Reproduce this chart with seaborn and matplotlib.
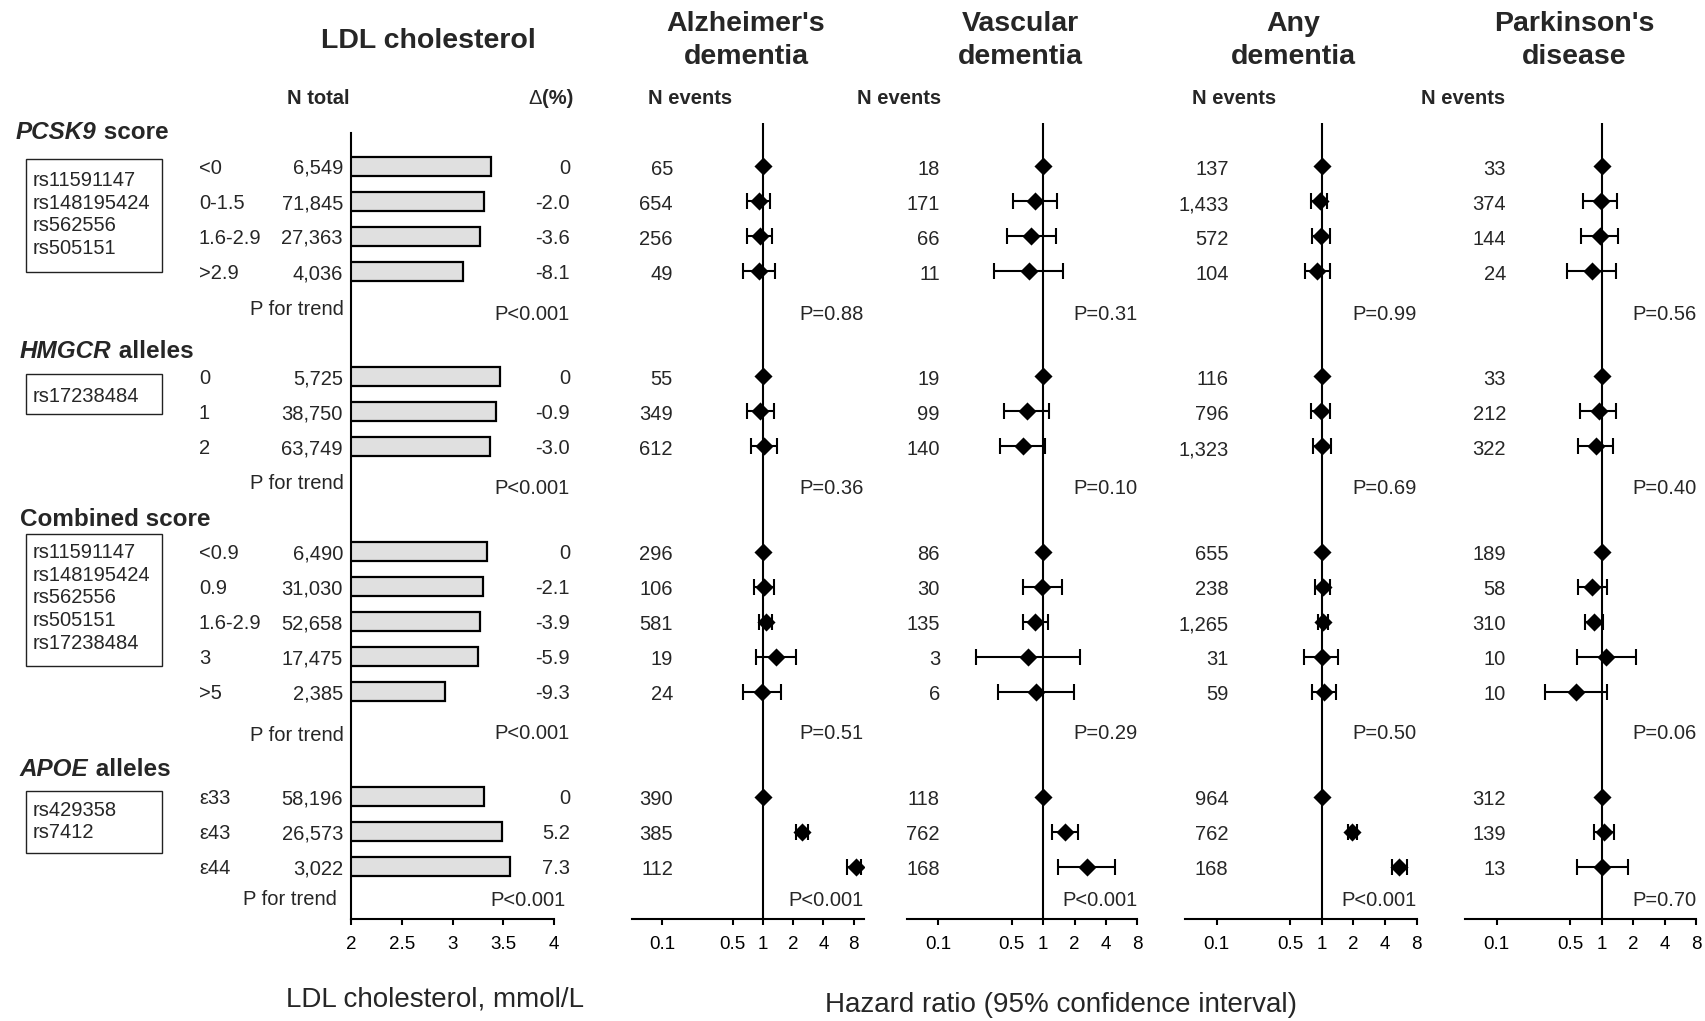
import numpy as np
import pandas as pd
import matplotlib
matplotlib.use('Agg')
import matplotlib.pyplot as plt
import matplotlib.transforms as mtransforms
import matplotlib.patches as patches
from matplotlib.ticker import FixedLocator, NullLocator
import seaborn as sns

sns.set_theme(style='ticks')
plt.rcParams['font.family'] = ['Liberation Sans', 'DejaVu Sans']

##############################################################################
# Data
##############################################################################

header_parts = [('PCSK9', ' score'), ('HMGCR', ' alleles'), ('', 'Combined score'), ('APOE', ' alleles')]

snps = [['rs11591147', 'rs148195424', 'rs562556', 'rs505151'],
        ['rs17238484'],
        ['rs11591147', 'rs148195424', 'rs562556', 'rs505151', 'rs17238484'],
        ['rs429358', 'rs7412']]

categories = [['<0', '0-1.5', '1.6-2.9', '>2.9'],
              ['0', '1', '2'],
              ['<0.9', '0.9', '1.6-2.9', '3', '>5'],
              ['\u03b533', '\u03b543', '\u03b544']]

n_total = [[6549, 71845, 27363, 4036],
           [5725, 38750, 63749],
           [6490, 31030, 52658, 17475, 2385],
           [58196, 26573, 3022]]

ldl_mean = [[3.38, 3.31, 3.27, 3.10],
            [3.47, 3.43, 3.37],
            [3.34, 3.30, 3.27, 3.25, 2.93],
            [3.31, 3.49, 3.57]]

delta_pct = [['0', '-2.0', '-3.6', '-8.1'],
             ['0', '-0.9', '-3.0'],
             ['0', '-2.1', '-3.9', '-5.9', '-9.3'],
             ['0', '5.2', '7.3']]

ldl_p = ['P<0.001', 'P<0.001', 'P<0.001', 'P<0.001']

# Alzheimer's dementia
alz_n = [[65, 654, 256, 49], [55, 349, 612], [296, 106, 581, 19, 24], [390, 385, 112]]
alz_hr = [[1.0, 0.91, 0.93, 0.91], [1.0, 0.94, 1.02], [1.0, 1.02, 1.07, 1.34, 0.98], [1.0, 2.44, 8.46]]
alz_lo = [[None, 0.70, 0.70, 0.63], [None, 0.70, 0.76], [None, 0.81, 0.92, 0.85, 0.64], [None, 2.11, 6.90]]
alz_hi = [[None, 1.19, 1.22, 1.33], [None, 1.29, 1.37], [None, 1.28, 1.23, 2.14, 1.52], [None, 2.80, 9.40]]
alz_p = ['P=0.88', 'P=0.36', 'P=0.51', 'P<0.001']

# Vascular dementia
vas_n = [[18, 171, 66, 11], [19, 99, 140], [86, 30, 135, 3, 6], [118, 762, 168]]
vas_hr = [[1.0, 0.84, 0.77, 0.73], [1.0, 0.70, 0.64], [1.0, 0.98, 0.84, 0.72, 0.85], [1.0, 1.63, 2.63]]
vas_lo = [[None, 0.52, 0.45, 0.34], [None, 0.42, 0.39], [None, 0.65, 0.65, 0.23, 0.37], [None, 1.22, 1.40]]
vas_hi = [[None, 1.36, 1.32, 1.55], [None, 1.15, 1.05], [None, 1.52, 1.11, 2.28, 1.96], [None, 2.16, 4.92]]
vas_p = ['P=0.31', 'P=0.10', 'P=0.29', 'P<0.001']

# Any dementia
any_n = [[137, 1433, 572, 104], [116, 796, 1323], [655, 238, 1265, 31, 59], [964, 762, 168]]
any_hr = [[1.0, 0.96, 0.99, 0.91], [1.0, 0.98, 1.00], [1.0, 1.02, 1.03, 1.00, 1.06], [1.0, 1.96, 5.45]]
any_lo = [[None, 0.79, 0.81, 0.70], [None, 0.79, 0.82], [None, 0.87, 0.92, 0.68, 0.80], [None, 1.79, 4.62]]
any_hi = [[None, 1.13, 1.20, 1.21], [None, 1.21, 1.23], [None, 1.19, 1.15, 1.42, 1.38], [None, 2.16, 6.48]]
any_p = ['P=0.99', 'P=0.69', 'P=0.50', 'P<0.001']

# Parkinson's disease
par_n = [[33, 374, 144, 24], [33, 212, 322], [189, 58, 310, 10, 10], [312, 139, 13]]
par_hr = [[1.0, 0.98, 0.96, 0.82], [1.0, 0.94, 0.89], [1.0, 0.82, 0.85, 1.11, 0.57], [1.0, 1.06, 1.02]]
par_lo = [[None, 0.66, 0.64, 0.47], [None, 0.63, 0.60], [None, 0.60, 0.70, 0.58, 0.29], [None, 0.85, 0.59]]
par_hi = [[None, 1.39, 1.45, 1.38], [None, 1.38, 1.30], [None, 1.13, 1.04, 2.11, 1.13], [None, 1.32, 1.80]]
par_p = ['P=0.56', 'P=0.40', 'P=0.06', 'P=0.70']

outcome_titles = [("Alzheimer's", 'dementia'), ('Vascular', 'dementia'), ('Any', 'dementia'), ("Parkinson's", 'disease')]
outcomes = [(alz_n, alz_hr, alz_lo, alz_hi, alz_p),
            (vas_n, vas_hr, vas_lo, vas_hi, vas_p),
            (any_n, any_hr, any_lo, any_hi, any_p),
            (par_n, par_hr, par_lo, par_hi, par_p)]

hr_ticks = [0.1, 0.5, 1, 2, 4, 8]
ldl_ticks = [2, 2.5, 3, 3.5, 4]

##############################################################################
# Layout
##############################################################################

W, H = 1706, 1021
TOP_ROW, BOT_ROW = -0.97, 21.5
FS = 14.5
TICK_FS = 13.5


def row_px(r):
    return 166.5 + 35.0 * r


# row positions: header, rows, P for trend
header_rows, item_rows = [], []
r = -1
for cats in categories:
    header_rows.append(r)
    item_rows.append(list(range(r + 1, r + 1 + len(cats))))
    r += len(cats) + 2
header_dy = [-0.03, 0.22, 0.0, 0.15]
trend_label_rows = [4.04, 9.01, 16.2, 20.88]
trend_p_rows = [4.17, 9.14, 16.13, 20.9]
box_spans = [(-0.22, 3.02), (5.92, 7.08), (10.5, 14.27), (17.83, 19.6)]
box_text_dy = [-0.09, 0.02, -0.115, -0.055]

fig = plt.figure(figsize=(W / 100, H / 100), dpi=100)
fig.patch.set_facecolor('white')


def add_ax(left, right):
    top, bot = row_px(TOP_ROW), row_px(BOT_ROW)
    return fig.add_axes([left / W, 1 - bot / H, (right - left) / W, (bot - top) / H])


##############################################################################
# LDL cholesterol bars
##############################################################################

ax_ldl = add_ax(351, 554)
bar_df = pd.DataFrame({'pos': np.concatenate(item_rows).astype(float),
                       'ldl': np.concatenate(ldl_mean)})
sns.barplot(data=bar_df, x='ldl', y='pos', orient='h', native_scale=True, width=0.56,
            color='#e0e0e0', saturation=1, edgecolor='black', linewidth=1.6,
            errorbar=None, ax=ax_ldl)
ax_ldl.set_xlim(2, 4)
ax_ldl.set_ylim(BOT_ROW, TOP_ROW)
ax_ldl.set_xticks(ldl_ticks)
ax_ldl.set_xticklabels([f'{v:g}' for v in ldl_ticks])
ax_ldl.set_yticks([])
ax_ldl.set_xlabel('')
ax_ldl.set_ylabel('')
for s in ['top', 'right']:
    ax_ldl.spines[s].set_visible(False)
for s in ['left', 'bottom']:
    ax_ldl.spines[s].set_color('black')
    ax_ldl.spines[s].set_linewidth(1.5)
ax_ldl.tick_params(axis='x', direction='out', length=4, width=1.5, pad=8, labelsize=TICK_FS, colors='black')

blend = mtransforms.blended_transform_factory(fig.transFigure, ax_ldl.transData)


def txt(xpx, row, s, **kw):
    kw.setdefault('fontsize', FS)
    kw.setdefault('va', 'center_baseline')
    return ax_ldl.text(xpx / W, row, s, transform=blend, clip_on=False, **kw)


for g in range(len(categories)):
    # group header
    hy = header_rows[g] + header_dy[g]
    ital, rest = header_parts[g]
    hx = 16 if g == 0 else 20
    if ital:
        tt = txt(hx, hy, ital, ha='left', fontsize=17.5, fontweight='bold', fontstyle='italic')
        ax_ldl.annotate(rest, xy=(1, 0), xycoords=tt, va='bottom', ha='left',
                        fontsize=17.5, fontweight='bold')
    else:
        txt(hx, hy, rest, ha='left', fontsize=17.5, fontweight='bold')
    # SNP box
    b0, b1 = box_spans[g]
    ax_ldl.add_patch(patches.Rectangle((26 / W, b0), (162 - 26) / W, b1 - b0, transform=blend,
                                       fill=False, edgecolor='#222222', lw=1.0, clip_on=False))
    centre = (b0 + b1) / 2 + box_text_dy[g]
    n = len(snps[g])
    for i, snp in enumerate(snps[g]):
        txt(33, centre + (i - (n - 1) / 2) * 0.645, snp, ha='left')
    # rows
    for i, rr in enumerate(item_rows[g]):
        txt(199, rr, categories[g][i], ha='left')
        txt(343, rr, f'{n_total[g][i]:,}', ha='right')
        txt(570, rr, delta_pct[g][i], ha='right')
    txt(344 if g < 3 else 337, trend_label_rows[g], 'P for trend', ha='right')
    txt(570 if g < 3 else 566, trend_p_rows[g], ldl_p[g], ha='right')

txt(350, -2.0, 'N total', ha='right', fontweight='bold')
pct = txt(573, -2.0, '(%)', ha='right', fontweight='bold')
ax_ldl.annotate('\u0394', xy=(0, 0), xycoords=pct, ha='right', va='bottom', fontsize=FS)

fig.text(428 / W, 1 - 41 / H, 'LDL cholesterol', ha='center', va='center', fontsize=20.5, fontweight='bold')
fig.text(435 / W, 1 - 999 / H, 'LDL cholesterol, mmol/L', ha='center', va='center', fontsize=20)

##############################################################################
# Forest plots
##############################################################################

panels = [(632, 863.5, (0.05, 10)), (907, 1137.5, (0.05, 8)),
          (1185, 1416.6, (0.05, 8)), (1465, 1696.3, (0.05, 8))]
n_right = [673, 940, 1228.6, 1506]
n_head_x = [690, 898.6, 1233.6, 1463]
title_x = [746, 1020, 1293, 1574]

for k, ((left, right, lims), (ev, hr, lo, hi, pv)) in enumerate(zip(panels, outcomes)):
    ax = add_ax(left, right)
    pos = np.concatenate(item_rows).astype(float)
    hr_a = np.concatenate(hr).astype(float)
    lo_a = np.array([np.nan if v is None else v for g in lo for v in g])
    hi_a = np.array([np.nan if v is None else v for g in hi for v in g])

    ax.plot([1, 1], [BOT_ROW, -1.25], color='black', lw=1.5, clip_on=False,
            solid_capstyle='butt', zorder=2)
    m = ~np.isnan(lo_a)
    ax.errorbar(hr_a[m], pos[m], xerr=[hr_a[m] - lo_a[m], hi_a[m] - hr_a[m]], fmt='none',
                ecolor='black', elinewidth=1.5, capsize=5.5, capthick=1.5, zorder=3)
    sns.scatterplot(x=hr_a, y=pos, marker='D', s=85, color='black', edgecolor='black',
                    linewidth=0, legend=False, zorder=4, ax=ax)

    ax.set_xscale('log')
    ax.set_xlim(lims)
    ax.set_ylim(BOT_ROW, TOP_ROW)
    ax.xaxis.set_major_locator(FixedLocator(hr_ticks))
    ax.xaxis.set_minor_locator(NullLocator())
    ax.set_xticklabels([f'{v:g}' for v in hr_ticks])
    ax.set_yticks([])
    ax.set_xlabel('')
    ax.set_ylabel('')
    for s in ['top', 'right', 'left']:
        ax.spines[s].set_visible(False)
    ax.spines['bottom'].set_color('black')
    ax.spines['bottom'].set_linewidth(1.5)
    ax.tick_params(axis='x', direction='out', length=4, width=1.5, pad=8, labelsize=TICK_FS, colors='black')
    ax.patch.set_alpha(0)

    for g in range(len(categories)):
        for i, rr in enumerate(item_rows[g]):
            txt(n_right[k], rr + 0.03, f'{ev[g][i]:,}', ha='right')
        txt(right, trend_p_rows[g], pv[g], ha='right')
    txt(n_head_x[k], -2.0, 'N events', ha='center', fontweight='bold')

    fig.text(title_x[k] / W, 1 - 24 / H, outcome_titles[k][0], ha='center', va='center',
             fontsize=20.5, fontweight='bold')
    fig.text(title_x[k] / W, 1 - 57 / H, outcome_titles[k][1], ha='center', va='center',
             fontsize=20.5, fontweight='bold')

fig.text(1061 / W, 1 - 1005 / H, 'Hazard ratio (95% confidence interval)', ha='center',
         va='center', fontsize=20)

fig.savefig('out.png', dpi=100, facecolor='white')
